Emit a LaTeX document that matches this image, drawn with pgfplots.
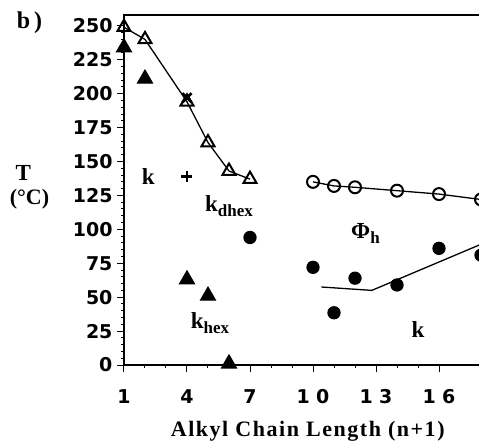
\documentclass[border=0pt]{standalone}
\usepackage{pgfplots}
\pgfplotsset{compat=1.18}
\usepackage{fontspec}
\setmainfont{Liberation Serif}
\newfontfamily\tickfont{DejaVu Sans}
\newfontfamily\labfont{Liberation Serif}[LetterSpace=7]

\newcommand{\lab}[2]{#1{\fontsize{17}{17}\selectfont\raisebox{-5pt}{#2}}}

\begin{document}
\begin{tikzpicture}
	\begin{axis}[%
			scale only axis,
			width=367.5pt,
			height=350pt,
			xmin=1, xmax=18.5,
			ymin=0, ymax=258,
			axis line style={line width=1.2pt},
			tick pos=left,
			tick align=outside,
			xtick={1,4,7,10,13,16},
			xticklabels={1,4,7,1\,\,0,1\,\,3,1\,\,6},
			minor x tick num=2,
			ytick={0,25,...,250},
			minor y tick num=4,
			major tick length=7pt,
			minor tick length=3pt,
			tick style={black, line width=1pt},
			ticklabel style={font=\fontsize{19}{19}\selectfont\tickfont\bfseries},
			/pgf/number format/assume math mode=true,
			xticklabel style={yshift=-14pt},
			yticklabel style={xshift=-1pt},
			xlabel={\labfont\bfseries\fontsize{22}{22}\selectfont Alkyl Chain Length (n+1)},
			xlabel style={yshift=-10pt},
			clip=false,
			every axis plot/.append style={line width=1.3pt}]

	% open triangles
	\addplot [black, mark=triangle, mark size=7.5pt,
			mark options={line width=2pt, fill=white}]
		coordinates{
			(1,249) (2,240) (4,194) (5,164) (6,143) (7,137)
		};

	% cross
	\addplot [only marks, mark=x, mark size=6.5pt, mark options={line width=2.6pt}]
		coordinates{ (4,197) };

	% plus
	\addplot [only marks, mark=+, mark size=5.5pt, mark options={line width=2.6pt}]
		coordinates{ (4,139) };

	% filled triangles
	\addplot [only marks, mark=triangle*, mark size=8.5pt]
		coordinates{
			(1,234) (2,211) (4,63) (5,51) (6,1)
		};

	% open circles
	\addplot [black, mark=o, mark size=6pt,
			mark options={line width=2pt, fill=white}]
		coordinates{
			(10,135) (11,132) (12,131) (14,128.5) (16,126) (18,122)
		};

	% filled circles
	\addplot [only marks, mark=*, mark size=6pt]
		coordinates{
			(7,94) (10,72) (11,38.5) (12,64) (14,59) (16,86) (18,81)
		};

	% trend line for filled circles
	\addplot [black, no marks]
		coordinates{ (10.4,57.5) (12.8,55) (18,89) };

	\node[font=\fontsize{23}{23}\selectfont\bfseries] at (axis cs:2.15,139) {k};
	\node[font=\fontsize{23}{23}\selectfont\bfseries] at (axis cs:6.0,117) {\lab{k}{dhex}};
	\node[font=\fontsize{23}{23}\selectfont\bfseries] at (axis cs:5.1,31) {\lab{k}{hex}};
	\node[font=\fontsize{23}{23}\selectfont\bfseries] at (axis cs:12.5,97) {\lab{Φ}{h}};
	\node[font=\fontsize{23}{23}\selectfont\bfseries] at (axis cs:15.0,26) {k};
	\node[font=\fontsize{23}{23}\selectfont\bfseries] at (axis cs:-3.8,141.5) {T};
	\node[font=\fontsize{22}{22}\selectfont\bfseries] at (axis cs:-3.5,122) {(°C)};
	\node[font=\fontsize{24}{24}\selectfont\bfseries] at (axis cs:-3.5,252) {b\,)};

	% top frame line
	\draw[line width=1.2pt] (rel axis cs:0,1) -- (rel axis cs:1,1);
	\end{axis}
	\pgfresetboundingbox
	\path[use as bounding box]
		([xshift=-124pt,yshift=-80pt]current axis.south west)
		rectangle ([xshift=355pt,yshift=15pt]current axis.north west);
\end{tikzpicture}
\end{document}
